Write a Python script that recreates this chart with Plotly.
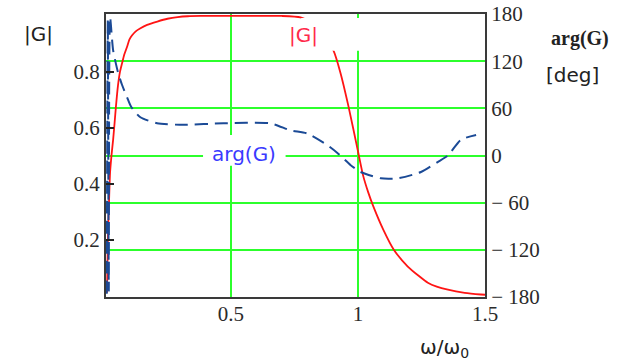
import plotly.graph_objects as go

# |G| (left axis) vs omega/omega0
mag_x = [0.012, 0.014, 0.016, 0.020, 0.024, 0.030, 0.036, 0.042, 0.047, 0.055, 0.063, 0.071, 0.080,
         0.091, 0.100, 0.110, 0.125, 0.142, 0.170, 0.210, 0.250, 0.290, 0.330, 0.380, 0.500, 0.600,
         0.700, 0.774, 0.820, 0.860, 0.904, 0.930, 0.963, 0.999, 1.020, 1.040, 1.060, 1.100, 1.141,
         1.196, 1.240, 1.275, 1.310, 1.354, 1.420, 1.484, 1.500]
mag_y = [0.01, 0.12, 0.225, 0.34, 0.44, 0.505, 0.557, 0.62, 0.675, 0.75, 0.80, 0.83, 0.862,
         0.89, 0.915, 0.93, 0.945, 0.955, 0.968, 0.98, 0.99, 0.996, 0.999, 1.0, 1.0, 1.0,
         1.0, 0.995, 0.975, 0.935, 0.875, 0.80, 0.675, 0.52, 0.43, 0.37, 0.32, 0.235, 0.164,
         0.104, 0.07, 0.046, 0.032, 0.021, 0.01, 0.004, 0.003]

# arg(G) in degrees (right axis)
arg_x = [0.011, 0.015, 0.019, 0.024, 0.036, 0.055, 0.071, 0.091, 0.107,
         0.142, 0.209, 0.312, 0.47, 0.655, 0.734, 0.80, 0.88, 0.92, 0.97, 1.01, 1.09, 1.157, 1.248,
         1.315, 1.354, 1.405, 1.465]
arg_y = [-176, 172, -172, 176, 134, 106, 90, 74, 62,
         49, 41, 39, 41, 41, 32, 28, 13, 3, -12, -21, -29, -29, -21,
         -8, 0, 20, 26]

x_ticks = [0.5, 1, 1.5]
x_ticktext = ["0.5", "1", "1.5"]
mag_ticks = [0.2, 0.4, 0.6, 0.8]
mag_ticktext = ["0.2", "0.4", "0.6", "0.8"]
arg_ticks = [-180, -120, -60, 0, 60, 120, 180]
arg_ticktext = ["\u2212 180", "\u2212 120", "\u2212 60", "0", "60", "120", "180"]

GREEN = "#2cff2c"
FRAME = "#3a3a3a"
TICKFONT = dict(family="Liberation Serif", size=21, color="#2b2b2b")
LABFONT = "DejaVu Sans"

fig = go.Figure()
fig.add_trace(go.Scatter(x=mag_x, y=mag_y, mode="lines", yaxis="y",
                         line=dict(color="#ff1414", width=1.8, shape="spline", smoothing=0.6),
                         showlegend=False))
fig.add_trace(go.Scatter(x=arg_x, y=arg_y, mode="lines", yaxis="y2",
                         line=dict(color="#1b4a96", width=2, dash="13px,7px", shape="spline",
                                   smoothing=0.6),
                         showlegend=False))

# white label boxes (as in the original, labels hide what's under them)
fig.add_shape(type="rect", xref="x", yref="y", x0=0.776, x1=1.03, y0=0.876, y1=0.993,
              fillcolor="white", line=dict(width=0), layer="above")
fig.add_shape(type="rect", xref="x", yref="y2", x0=0.39, x1=0.715, y0=-13, y1=26,
              fillcolor="white", line=dict(width=0), layer="above")

fig.update_layout(
    width=617, height=361,
    margin=dict(l=106, r=132, t=14, b=64, autoexpand=False),
    paper_bgcolor="white", plot_bgcolor="white",
    xaxis=dict(range=[0.008, 1.5], tickvals=x_ticks, ticktext=x_ticktext, tickfont=TICKFONT,
               showgrid=True, gridcolor=GREEN, gridwidth=2, zeroline=False, automargin=False,
               showline=True, linecolor=FRAME, linewidth=2, mirror=True, ticks="",
               ticklabelstandoff=-3),
    yaxis=dict(range=[-0.005, 1.007], tickvals=mag_ticks, ticktext=mag_ticktext, tickfont=TICKFONT,
               showgrid=False, zeroline=False, ticks="inside", ticklen=8, tickwidth=1.5,
               automargin=False,
               tickcolor="#222", showline=True, linecolor=FRAME, linewidth=2, mirror=True),
    yaxis2=dict(range=[-180, 180], tickvals=arg_ticks, ticktext=arg_ticktext, tickfont=TICKFONT,
                overlaying="y", side="right", showgrid=True, gridcolor=GREEN, gridwidth=2,
                automargin=False,
                zeroline=False, ticks="", showline=True, linecolor=FRAME, linewidth=2),
    annotations=[
        dict(text="|G|", xref="paper", yref="paper", x=-0.179, y=0.93, showarrow=False,
             xanchor="center", yanchor="middle", font=dict(family=LABFONT, size=20, color="#222")),
        dict(text="<b>arg(G)</b>", xref="paper", yref="paper", x=1.251, y=0.915, showarrow=False,
             xanchor="center", yanchor="middle", font=dict(family="Liberation Serif", size=20, color="#222")),
        dict(text="[deg]", xref="paper", yref="paper", x=1.232, y=0.784, showarrow=False,
             xanchor="center", yanchor="middle", font=dict(family=LABFONT, size=20, color="#222")),
        dict(text="\u03c9/\u03c9<sub>0</sub>", xref="paper", yref="paper", x=0.892, y=-0.18,
             showarrow=False, xanchor="center", yanchor="middle",
             font=dict(family=LABFONT, size=20, color="#222")),
        dict(text="|G|", xref="paper", yref="paper", x=0.52, y=0.926, showarrow=False,
             xanchor="center", yanchor="middle", font=dict(family=LABFONT, size=20, color="#ff2a4a")),
        dict(text="arg(G)", xref="paper", yref="paper", x=0.364, y=0.505, showarrow=False,
             xanchor="center", yanchor="middle", font=dict(family=LABFONT, size=20, color="#3a3aff")),
    ],
)

fig.write_html("out.html")
